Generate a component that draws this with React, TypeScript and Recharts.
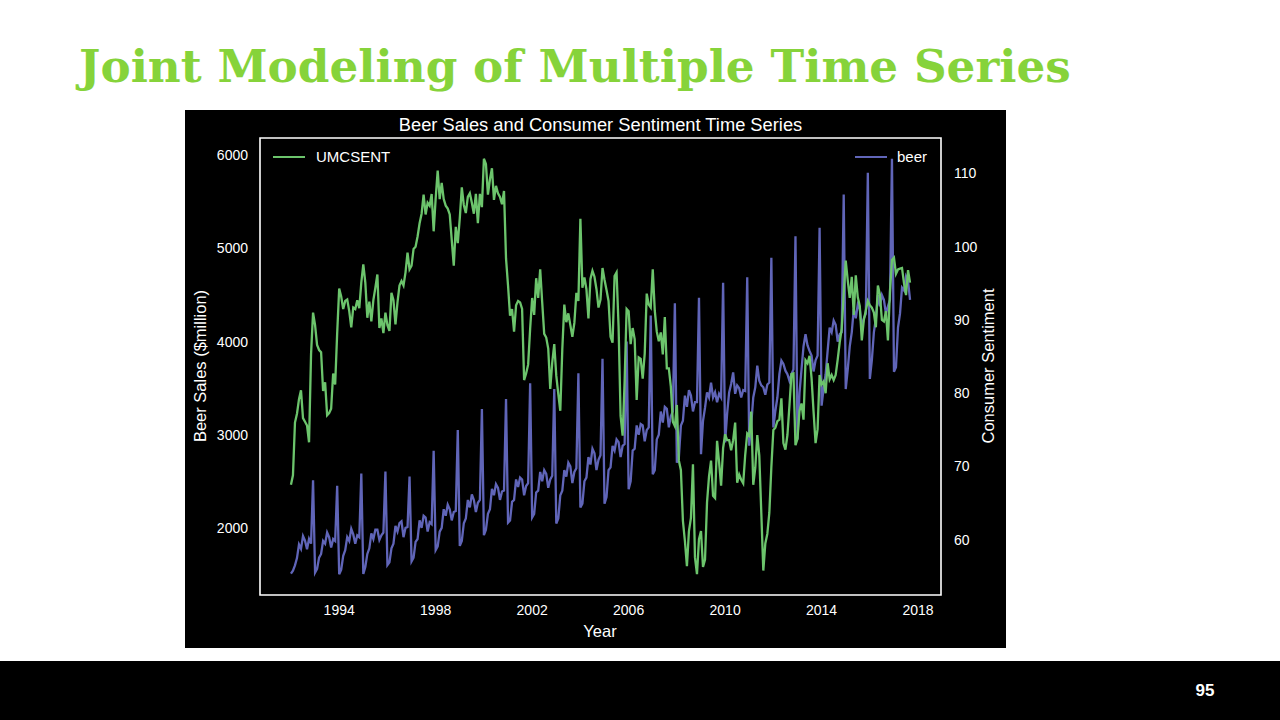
import { LineChart, Line, XAxis, YAxis, ReferenceArea } from 'recharts'

// monthly, Jan 1992 .. Sep 2017
const START_YEAR = 1992

const beer = [
  1509, 1541, 1597, 1675, 1822, 1775, 1912, 1862, 1770, 1882, 1831, 2511, // 1992
  1519, 1560, 1680, 1720, 1860, 1830, 1950, 1900, 1790, 1880, 1860, 2452, // 1993
  1502, 1550, 1700, 1760, 1900, 1860, 1990, 1930, 1830, 1920, 1900, 2584, // 1994
  1505, 1580, 1720, 1780, 1940, 1880, 1980, 1980, 1870, 1920, 1950, 2605, // 1995
  1600, 1630, 1780, 1830, 2020, 1960, 2050, 2070, 1900, 2000, 2010, 2552, // 1996
  1640, 1680, 1850, 1880, 2080, 2000, 2130, 2110, 1960, 2060, 2040, 2828, // 1997
  1760, 1800, 1960, 2000, 2200, 2130, 2250, 2200, 2080, 2170, 2180, 3050, // 1998
  1806, 1860, 2050, 2100, 2300, 2220, 2360, 2300, 2170, 2270, 2300, 3276, // 1999
  1921, 1980, 2150, 2200, 2420, 2350, 2470, 2430, 2300, 2390, 2400, 3384, // 2000
  2057, 2080, 2280, 2300, 2520, 2440, 2540, 2520, 2350, 2450, 2480, 3552, // 2001
  2111, 2150, 2380, 2400, 2600, 2500, 2620, 2580, 2430, 2520, 2560, 3491, // 2002
  2046, 2100, 2350, 2400, 2620, 2550, 2700, 2660, 2480, 2600, 2640, 3659, // 2003
  2218, 2260, 2500, 2540, 2760, 2680, 2850, 2800, 2620, 2730, 2780, 3817, // 2004
  2260, 2330, 2620, 2650, 2880, 2830, 2950, 2920, 2760, 2880, 2900, 4000, // 2005
  2416, 2500, 2830, 2850, 3100, 3000, 3115, 3100, 2930, 3050, 3080, 4280, // 2006
  2577, 2620, 2950, 3000, 3250, 3130, 3300, 3280, 3080, 3200, 3250, 4412, // 2007
  2700, 2760, 3100, 3150, 3420, 3300, 3480, 3420, 3250, 3350, 3350, 4470, // 2008
  2792, 3150, 3290, 3455, 3400, 3560, 3400, 3455, 3350, 3440, 3400, 4631, // 2009
  2917, 3226, 3455, 3545, 3670, 3440, 3530, 3500, 3400, 3480, 3470, 4691, // 2010
  2882, 3115, 3401, 3509, 3742, 3581, 3530, 3510, 3430, 3540, 3560, 4900, // 2011
  3078, 3258, 3400, 3652, 3796, 3760, 3688, 3650, 3580, 3650, 3700, 5132, // 2012
  2950, 3450, 3700, 3950, 4080, 3960, 3900, 3850, 3680, 3800, 3850, 5222, // 2013
  3312, 3500, 3650, 3900, 4150, 4100, 4226, 4180, 4000, 4080, 4100, 5581, // 2014
  3491, 3700, 3950, 4100, 4350, 4250, 4400, 4350, 4150, 4250, 4300, 5814, // 2015
  3599, 3800, 4100, 4250, 4500, 4380, 4500, 4450, 4300, 4380, 4450, 5964, // 2016
  3677, 3724, 4150, 4300, 4580, 4550, 4700, 4650, 4448, // 2017
]

const umcsent = [
  67.5, 68.8, 76.0, 77.2, 79.2, 80.4, 76.6, 76.1, 75.6, 73.3, 85.3, 91.0, // 1992
  89.3, 86.6, 85.9, 85.6, 80.3, 81.5, 77.0, 77.3, 77.9, 82.7, 81.2, 88.2, // 1993
  94.3, 93.2, 91.5, 92.6, 92.8, 91.2, 89.0, 91.7, 91.5, 92.7, 91.6, 95.1, // 1994
  97.6, 95.1, 90.3, 92.5, 89.8, 92.7, 94.4, 96.2, 88.9, 90.2, 88.2, 91.0, // 1995
  89.3, 88.5, 93.7, 92.7, 89.4, 92.4, 94.7, 95.3, 94.7, 96.5, 99.2, 96.9, // 1996
  97.4, 99.7, 100.0, 101.4, 103.2, 104.5, 107.1, 104.4, 106.0, 105.6, 107.2, 102.1, // 1997
  106.6, 110.4, 106.5, 108.7, 106.5, 105.6, 105.2, 104.4, 100.9, 97.4, 102.7, 100.5, // 1998
  103.9, 108.1, 105.7, 104.6, 106.8, 107.3, 106.0, 104.5, 107.2, 103.2, 107.2, 105.4, // 1999
  112.0, 111.3, 107.1, 109.2, 110.7, 106.4, 108.3, 107.3, 106.8, 105.8, 107.6, 98.4, // 2000
  94.7, 90.6, 91.5, 88.4, 92.0, 92.6, 92.4, 91.5, 81.8, 82.7, 83.9, 88.8, // 2001
  93.0, 90.7, 95.7, 93.0, 96.9, 92.4, 88.1, 87.6, 86.1, 80.6, 84.2, 86.7, // 2002
  82.4, 79.9, 77.6, 86.0, 92.1, 89.7, 90.9, 89.3, 87.7, 89.6, 93.7, 92.6, // 2003
  103.8, 94.4, 95.8, 94.2, 90.2, 95.6, 96.7, 95.9, 94.2, 91.7, 92.8, 97.1, // 2004
  95.5, 94.1, 92.6, 87.7, 86.9, 96.0, 96.5, 89.1, 76.9, 74.2, 81.6, 91.5, // 2005
  91.2, 86.7, 88.9, 87.4, 79.1, 84.9, 84.7, 82.0, 85.4, 93.6, 92.1, 91.7, // 2006
  96.9, 91.3, 88.4, 87.1, 88.3, 85.3, 90.4, 83.4, 83.4, 80.9, 76.1, 75.5, // 2007
  78.4, 70.8, 69.5, 62.6, 59.8, 56.4, 61.2, 63.0, 70.3, 57.6, 55.3, 60.1, // 2008
  61.2, 56.3, 57.3, 65.1, 68.7, 70.8, 66.0, 65.7, 73.5, 70.6, 67.4, 72.5, // 2009
  74.4, 73.6, 73.6, 72.2, 73.6, 76.0, 67.8, 68.9, 68.2, 67.7, 71.6, 74.5, // 2010
  74.2, 77.5, 67.5, 69.8, 74.3, 71.5, 63.7, 55.8, 59.5, 60.8, 63.7, 69.9, // 2011
  75.0, 75.3, 76.2, 76.4, 79.3, 73.2, 72.3, 74.3, 78.3, 82.6, 82.7, 72.9, // 2012
  73.8, 77.6, 78.6, 76.4, 84.5, 84.1, 85.1, 82.1, 77.5, 73.2, 75.1, 82.5, // 2013
  81.2, 81.6, 80.0, 84.1, 81.9, 82.5, 81.8, 82.5, 84.6, 86.9, 88.8, 93.6, // 2014
  98.1, 95.4, 93.0, 95.9, 90.7, 96.1, 93.1, 91.9, 87.2, 90.0, 91.3, 92.6, // 2015
  92.0, 91.7, 91.0, 89.0, 94.7, 93.5, 90.0, 89.8, 91.2, 87.2, 93.8, 98.2, // 2016
  98.5, 96.3, 96.9, 97.0, 97.1, 95.0, 93.4, 96.8, 95.1, // 2017
]

const yearTicks = [1994, 1998, 2002, 2006, 2010, 2014, 2018]
const beerTicks = [2000, 3000, 4000, 5000, 6000]
const sentTicks = [60, 70, 80, 90, 100, 110]

const data = beer.map((b, i) => ({ t: START_YEAR + i / 12, beer: b, UMCSENT: umcsent[i] }))

const GREEN = '#6cc46c'
const BLUE = '#6065b8'
const SANS = '"Liberation Sans", Arial, sans-serif'

const X_DOMAIN = [1990.717, 2018.95]
const BEER_DOMAIN = [1279, 6187]
const SENT_DOMAIN = [52.465, 114.835]

const tickStyle = { fill: '#ffffff', fontSize: 14, fontFamily: SANS }

export default function App() {
  return (
    <div style={{ position: 'absolute', left: 0, top: 0, width: 1280, height: 720, background: '#fff', overflow: 'hidden' }}>
      <div
        style={{
          position: 'absolute', left: 79, top: 44, fontFamily: '"DejaVu Serif", serif', fontWeight: 'bold',
          fontSize: 45.3, lineHeight: 1, color: '#86d33a', whiteSpace: 'nowrap',
        }}
      >
        Joint Modeling of Multiple Time Series
      </div>

      <div style={{ position: 'absolute', left: 185, top: 110, width: 821, height: 538, background: '#000', fontFamily: SANS, color: '#fff' }}>
        <div style={{ position: 'absolute', left: 75, width: 681, top: 6, lineHeight: '18px', fontSize: 18.3, textAlign: 'center' }}>
          Beer Sales and Consumer Sentiment Time Series
        </div>

        <LineChart width={821} height={538} data={data} margin={{ top: 28, right: 0, bottom: 0, left: 0 }}>
          <XAxis
            dataKey="t" type="number" domain={X_DOMAIN} ticks={yearTicks} allowDataOverflow
            height={53} axisLine={false} tickLine={false} tickSize={0} tickMargin={10} tick={tickStyle}
          />
          <YAxis
            yAxisId="left" orientation="left" type="number" domain={BEER_DOMAIN} ticks={beerTicks} allowDataOverflow
            width={75} axisLine={false} tickLine={false} tickSize={0} tickMargin={12} tick={tickStyle}
          />
          <YAxis
            yAxisId="right" orientation="right" type="number" domain={SENT_DOMAIN} ticks={sentTicks} allowDataOverflow
            width={65} axisLine={false} tickLine={false} tickSize={0} tickMargin={13} tick={tickStyle}
          />
          <Line yAxisId="left" dataKey="beer" stroke={BLUE} strokeWidth={2.3} dot={false} isAnimationActive={false} />
          <Line yAxisId="right" dataKey="UMCSENT" stroke={GREEN} strokeWidth={2.3} dot={false} isAnimationActive={false} />
          <ReferenceArea
            yAxisId="left" x1={X_DOMAIN[0]} x2={X_DOMAIN[1]} y1={BEER_DOMAIN[0]} y2={BEER_DOMAIN[1]}
            fill="none" fillOpacity={0} stroke="#ffffff" strokeWidth={1.6} ifOverflow="visible"
          />
        </LineChart>

        {/* legends */}
        <div style={{ position: 'absolute', left: 88, top: 46, width: 32, height: 2, background: GREEN }} />
        <div style={{ position: 'absolute', left: 131, top: 38, lineHeight: '18px', fontSize: 15 }}>UMCSENT</div>
        <div style={{ position: 'absolute', left: 670, top: 46, width: 32, height: 2, background: BLUE }} />
        <div style={{ position: 'absolute', left: 712, top: 38, lineHeight: '18px', fontSize: 15 }}>beer</div>

        {/* axis titles */}
        <div style={{ position: 'absolute', left: 15, top: 256, transform: 'translate(-50%, -50%) rotate(-90deg)', whiteSpace: 'nowrap', fontSize: 16.5 }}>
          Beer Sales ($million)
        </div>
        <div style={{ position: 'absolute', left: 803, top: 256, transform: 'translate(-50%, -50%) rotate(-90deg)', whiteSpace: 'nowrap', fontSize: 16.5 }}>
          Consumer Sentiment
        </div>
        <div style={{ position: 'absolute', left: 415, top: 521, transform: 'translate(-50%, -50%)', whiteSpace: 'nowrap', fontSize: 16.5 }}>
          Year
        </div>
      </div>

      <div style={{ position: 'absolute', left: 0, top: 661, width: 1280, height: 59, background: '#000' }}>
        <div style={{ position: 'absolute', left: 1205, top: 30, transform: 'translate(-50%, -50%)', color: '#fff', fontFamily: SANS, fontWeight: 'bold', fontSize: 17 }}>
          95
        </div>
      </div>
    </div>
  )
}
